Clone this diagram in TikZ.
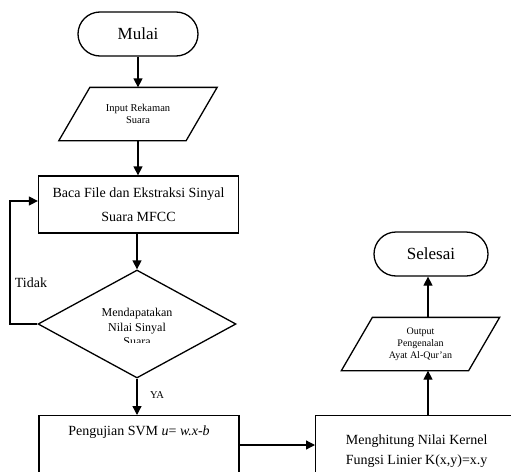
\documentclass[tikz,border=0pt]{standalone}
\usepackage{fontspec}
\setmainfont{Liberation Serif}
\usetikzlibrary{shapes.geometric,arrows.meta,calc}
\begin{document}
\begin{tikzpicture}[x=1pt,y=-1pt,line width=1.3pt,
  term/.style={draw,rounded corners=22pt,minimum height=44pt,inner sep=0pt,font=\fontsize{17}{20}\selectfont},
  iobox/.style={draw=none,minimum width=126pt,minimum height=52pt,inner sep=0pt,align=center},
  procbox/.style={draw,minimum width=200pt,inner sep=0pt,align=center,font=\fontsize{14}{24}\selectfont},
  decbox/.style={draw,diamond,minimum width=198pt,minimum height=108pt,inner sep=0pt},
  arr/.style={-{Triangle[length=9pt,width=9pt]}},
  lbl/.style={inner sep=0pt}]
\clip (0,0) rectangle (511,471);
% nodes
\node[term,minimum width=120pt] (mulai) at (138,34) {Mulai};
\node[iobox,font=\fontsize{10.5}{12.5}\selectfont] (inp) at (138,114) {Input Rekaman\\Suara};
\draw ($(inp.north west)+(15.5,0)$) -- ($(inp.north east)+(15.5,0)$) -- ($(inp.south east)+(-15.5,0)$) -- ($(inp.south west)+(-15.5,0)$) -- cycle;
\node[procbox,minimum height=57pt] (baca) at (138.5,204.5) {Baca File dan Ekstraksi Sinyal\\Suara MFCC};
\node[decbox] (dec) at (137,324) {};
\begin{scope}
\clip (40,295) rectangle (235,342);
\node[align=center,inner sep=0pt,font=\fontsize{12}{14.8}\selectfont] (dectext) at (137,327) {Mendapatakan\\Nilai Sinyal\\Suara};
\end{scope}
\node[procbox,anchor=north,text height=15pt,text depth=50pt,inner ysep=4.5pt] (svm) at (139,415) {Pengujian SVM \textit{u}= \textit{w.x-b}};
\node[procbox,anchor=north west,minimum width=202pt,minimum height=70pt,font=\fontsize{14}{20}\selectfont] (kern) at (315,415) {Menghitung Nilai Kernel\\Fungsi Linier K(x,y)=x.y};
\node[iobox,font=\fontsize{10}{11.8}\selectfont] (out) at (420.5,344) {Output\\Pengenalan\\Ayat Al-Qur'an};
\draw ($(out.north west)+(15.5,0)$) -- ($(out.north east)+(15.5,0)$) -- ($(out.south east)+(-15.5,0)$) -- ($(out.south west)+(-15.5,0)$) -- cycle;
\node[term,minimum width=114pt] (sel) at (431,254) {Selesai};
% labels
\node[lbl,font=\fontsize{14}{16}\selectfont] (tidak) at (31,283) {Tidak};
\node[lbl,font=\fontsize{10.5}{12}\selectfont] (ya) at (157,395) {YA};
% connectors
\coordinate (loopc) at (10,201);
\coordinate (kx) at (428,445);
\draw[arr] (mulai.south) -- (inp.north);
\draw[arr] (inp.south) -- (inp.south |- baca.north);
\draw[arr] (baca.south -| dec.north) -- (dec.north);
\draw[arr] (dec.west) -| (loopc) -- (loopc -| baca.west);
\draw[arr] (dec.south) -- (dec.south |- svm.north);
\draw[arr] (svm.east |- kx) -- (kern.west |- kx);
\draw[arr] (kern.north -| kx) -- (out.south -| kx);
\draw[arr] (out.north -| kx) -- (sel.south -| kx);
\end{tikzpicture}
\end{document}
